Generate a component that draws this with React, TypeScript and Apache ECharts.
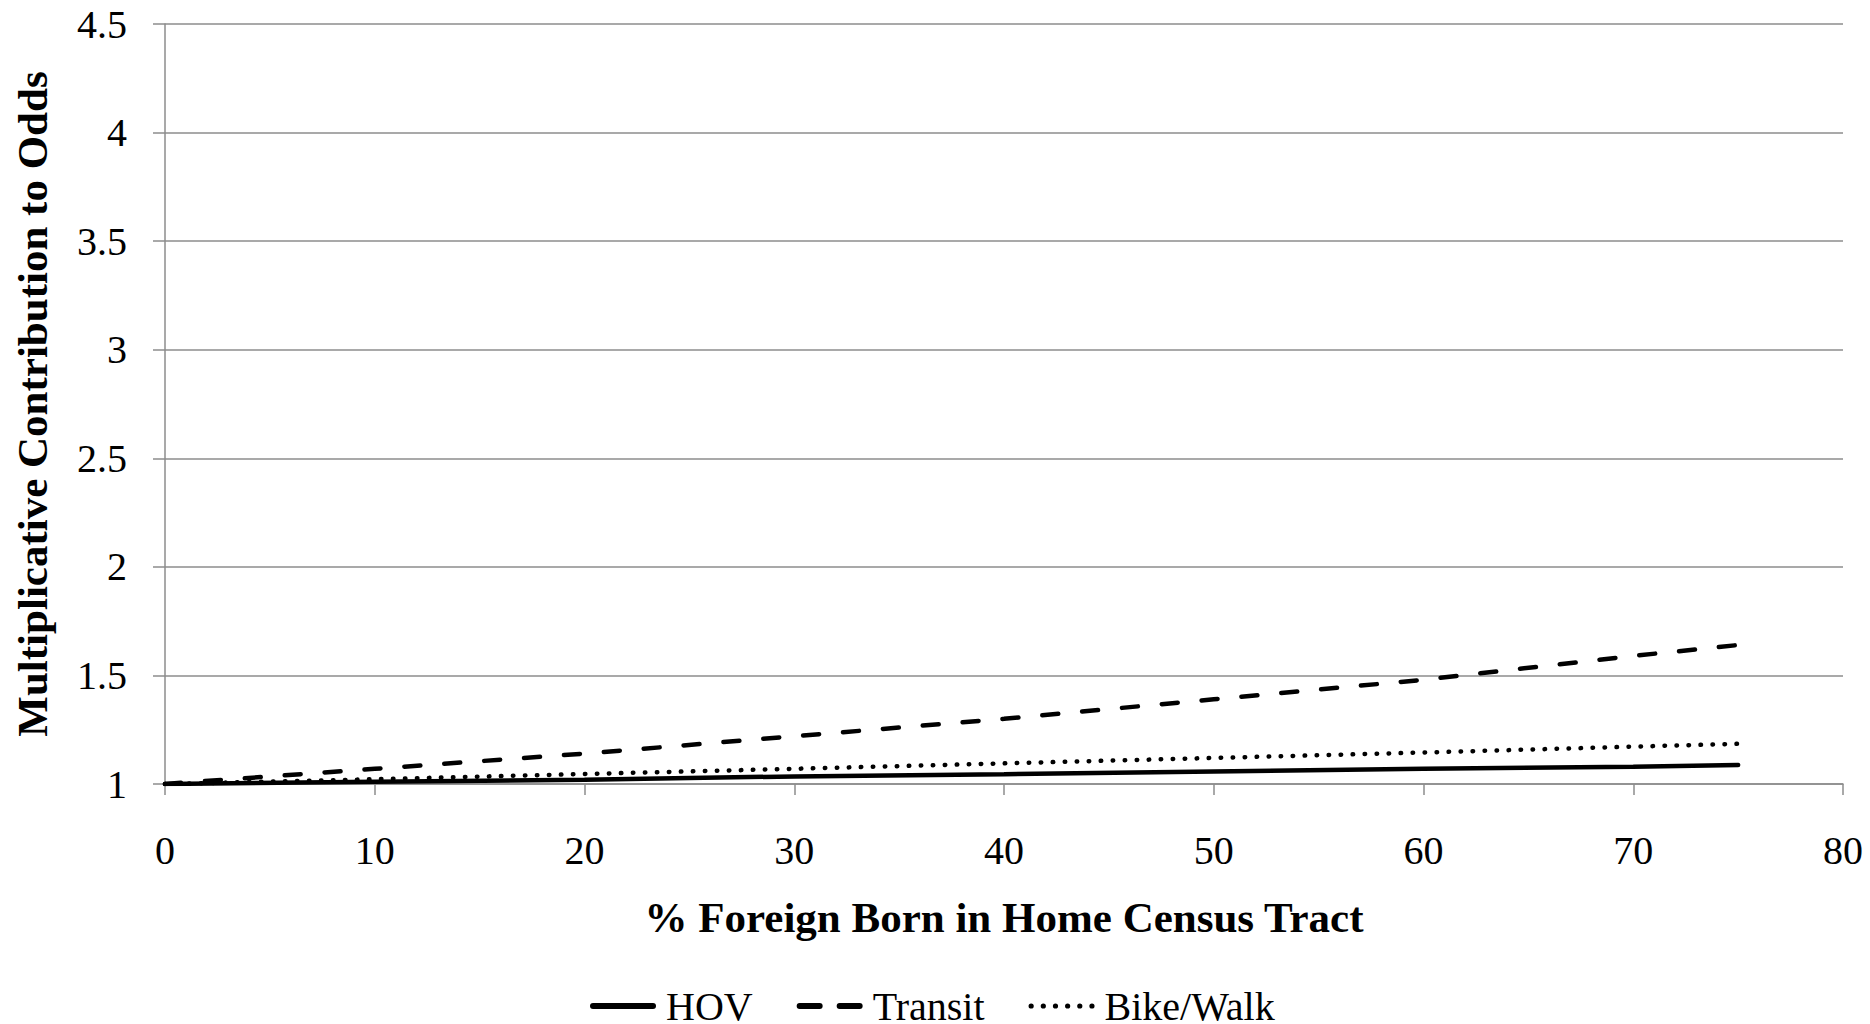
import React, { useEffect, useRef } from "react";
import * as echarts from "echarts";

const xValues = [0, 10, 20, 30, 40, 50, 60, 70, 75];
const hovValues = [1.0, 1.01, 1.02, 1.035, 1.045, 1.058, 1.07, 1.08, 1.088];
const transitValues = [1.0, 1.07, 1.14, 1.22, 1.3, 1.39, 1.48, 1.59, 1.64];
const bikeWalkValues = [1.0, 1.022, 1.046, 1.07, 1.095, 1.12, 1.145, 1.172, 1.185];
const seriesNames = ["HOV", "Transit", "Bike/Walk"];
const xTitle = "% Foreign Born in Home Census Tract";
const yTitle = "Multiplicative Contribution to Odds";

const FONT = '"Liberation Serif", "Times New Roman", serif';

function dotsPath() {
  let d = "path://";
  const r = 2.6;
  for (let i = 0; i < 6; i++) {
    const cx = r + i * ((66 - 2 * r) / 5);
    d += `M${cx - r},${r}A${r},${r} 0 1,0 ${cx + r},${r}A${r},${r} 0 1,0 ${cx - r},${r}Z `;
  }
  return d.trim();
}

const ICONS = [
  "path://M3,0H63A3,3 0 0,1 63,6H3A3,3 0 0,1 3,0Z",
  "path://M3,0H23A3,3 0 0,1 23,6H3A3,3 0 0,1 3,0Z M43,0H63A3,3 0 0,1 63,6H43A3,3 0 0,1 43,0Z",
  dotsPath(),
];

export default function App() {
  const ref = useRef<HTMLDivElement>(null);
  useEffect(() => {
    document.body.style.margin = "0";
    if (!ref.current) return;
    const chart = echarts.init(ref.current, null, { renderer: "svg" });
    const pair = (vals: number[]) => xValues.map((x, i) => [x, vals[i]]);
    const lineStyles: any[] = [
      { color: "#000", width: 4.5, type: "solid", cap: "round" },
      { color: "#000", width: 4.5, type: [16, 24], cap: "round" },
      { color: "#000", width: 4.5, type: [0.5, 11.5], cap: "round" },
    ];
    const valuesList = [hovValues, transitValues, bikeWalkValues];
    chart.setOption({
      animation: false,
      backgroundColor: "#fff",
      textStyle: { fontFamily: FONT, color: "#000" },
      grid: { left: 165, right: 27, top: 24, bottom: 240, containLabel: false },
      legend: {
        data: seriesNames.map((name, i) => ({ name, icon: ICONS[i] })),
        left: 585,
        top: 981,
        itemWidth: 66,
        itemHeight: 6,
        itemGap: 44,
        itemStyle: { color: "#000", borderWidth: 0 },
        lineStyle: { width: 0 },
        textStyle: { fontFamily: FONT, fontSize: 40, lineHeight: 36, color: "#000", padding: [0, 0, 0, 5] },
      },
      xAxis: {
        type: "value",
        min: 0,
        max: 80,
        interval: 10,
        name: xTitle,
        nameLocation: "middle",
        nameGap: 112,
        nameTextStyle: { fontFamily: FONT, fontSize: 43, fontWeight: "bold", color: "#000" },
        axisLine: { show: true, lineStyle: { color: "#8c8c8c", width: 1.5 } },
        axisTick: { show: true, length: 11, lineStyle: { color: "#8c8c8c", width: 1.5 } },
        axisLabel: { fontFamily: FONT, fontSize: 40, color: "#000", margin: 46 },
        splitLine: { show: false },
      },
      yAxis: {
        type: "value",
        min: 1,
        max: 4.5,
        interval: 0.5,
        name: yTitle,
        nameLocation: "middle",
        nameGap: 111,
        nameRotate: 90,
        nameTextStyle: { fontFamily: FONT, fontSize: 43, fontWeight: "bold", color: "#000" },
        axisLine: { show: true, lineStyle: { color: "#8c8c8c", width: 1.5 } },
        axisTick: { show: true, length: 12, lineStyle: { color: "#8c8c8c", width: 1.5 } },
        axisLabel: { fontFamily: FONT, fontSize: 40, color: "#000", margin: 38 },
        splitLine: { show: true, lineStyle: { color: "#8c8c8c", width: 1.5 } },
      },
      series: seriesNames.map((name, i) => ({
        name,
        type: "line",
        data: pair(valuesList[i]),
        showSymbol: false,
        symbol: "none",
        smooth: false,
        lineStyle: lineStyles[i],
        itemStyle: { color: "#000" },
        z: 3 - i,
      })),
    });
    return () => chart.dispose();
  }, []);
  return <div ref={ref} style={{ width: 1870, height: 1024 }} />;
}
